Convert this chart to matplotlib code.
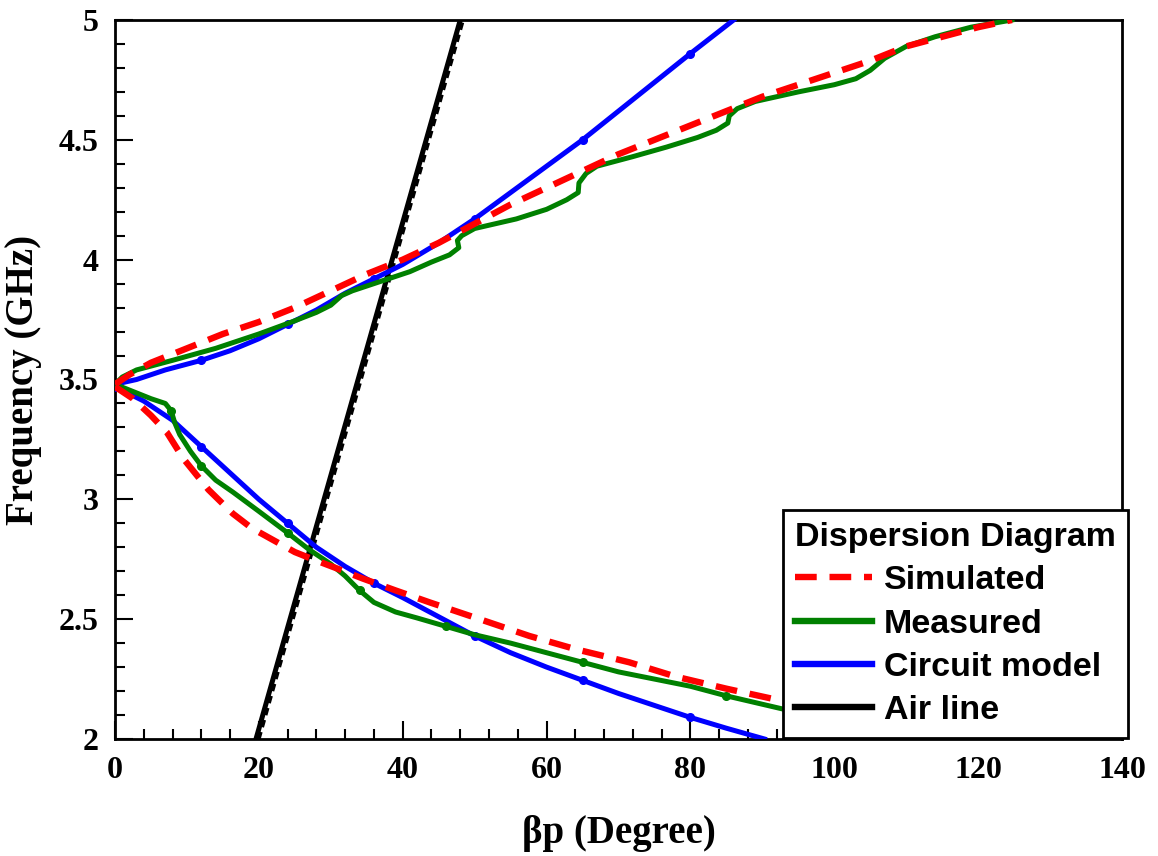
import matplotlib.pyplot as plt
from matplotlib.lines import Line2D
from matplotlib.ticker import MultipleLocator, FormatStrFormatter

# Simulated (red dashed)
sim_up_x = [0, 2, 5, 10, 15, 20, 25, 30, 35, 40, 45, 50, 55, 60, 65, 70, 75, 80, 85, 90, 95, 100, 105, 110, 115, 120, 124.7]
sim_up_f = [3.48, 3.52, 3.57, 3.63, 3.69, 3.74, 3.80, 3.87, 3.94, 4.00, 4.07, 4.15, 4.23, 4.30, 4.37, 4.44, 4.50, 4.56, 4.62, 4.68, 4.73, 4.78, 4.83, 4.89, 4.93, 4.97, 5.0]
sim_lo_x = [0, 2.5, 5, 7.2, 9.5, 13, 16.4, 19, 22, 25, 27.5, 31, 34.4, 39, 43.75, 50.7, 57.6, 64, 71.5, 78, 85, 92.6, 100]
sim_lo_f = [3.47, 3.42, 3.35, 3.28, 3.17, 3.04, 2.94, 2.88, 2.83, 2.78, 2.75, 2.71, 2.67, 2.62, 2.57, 2.50, 2.43, 2.375, 2.32, 2.26, 2.21, 2.16, 2.11]

# Measured (green)
meas_up_x = [0, 1, 3, 8, 14, 20, 25, 28, 30, 31.5, 33, 37, 41, 44, 46.5, 47.8, 47.6, 48.2, 50, 55.8, 60, 62.8, 64.4,
             64.5, 65.5, 67, 72, 76.7, 81, 83.6, 85.2, 85.4, 86.5, 89, 95, 100, 103, 105, 107, 110, 114, 119, 124.7]
meas_up_f = [3.48, 3.51, 3.54, 3.58, 3.63, 3.69, 3.745, 3.78, 3.81, 3.85, 3.87, 3.91, 3.95, 3.99, 4.02, 4.05, 4.08, 4.10, 4.13, 4.17, 4.21, 4.25, 4.28,
             4.32, 4.36, 4.39, 4.43, 4.47, 4.51, 4.54, 4.57, 4.60, 4.63, 4.66, 4.70, 4.73, 4.755, 4.79, 4.84, 4.89, 4.93, 4.97, 5.0]
meas_lo_x = [0, 2.5, 5, 7, 7.8, 8.3, 9, 10.5, 12, 14, 16.4, 20, 24, 27, 30, 32, 34, 36, 39, 42, 46, 50, 55, 60, 65, 70, 75, 80, 85, 90, 95, 100]
meas_lo_f = [3.48, 3.45, 3.42, 3.40, 3.37, 3.32, 3.27, 3.20, 3.14, 3.08, 3.03, 2.95, 2.86, 2.79, 2.73, 2.68, 2.62, 2.57, 2.53, 2.505, 2.47, 2.435, 2.40, 2.36, 2.32, 2.28, 2.25, 2.22, 2.18, 2.145, 2.11, 2.08]

# Circuit model (blue)
circ_up_x = [0, 3, 7, 12, 16, 20, 24, 28, 32, 36, 40, 45, 50, 55, 60, 65, 70, 75, 80, 86]
circ_up_f = [3.48, 3.50, 3.54, 3.58, 3.62, 3.67, 3.73, 3.79, 3.86, 3.92, 3.98, 4.07, 4.17, 4.28, 4.39, 4.50, 4.62, 4.74, 4.86, 5.0]
circ_lo_x = [0, 4, 8, 12, 16, 20, 24, 28, 32, 36, 40, 45, 50, 55, 60, 65, 70, 75, 80, 85, 90.3]
circ_lo_f = [3.47, 3.41, 3.33, 3.22, 3.11, 3.00, 2.90, 2.80, 2.72, 2.65, 2.59, 2.51, 2.43, 2.36, 2.30, 2.245, 2.19, 2.14, 2.09, 2.045, 2.0]

# Air line (black)
air_x = [19.6, 48.0]
air_f = [2.0, 5.0]
air2_x = [19.9, 48.3]
air2_f = [2.0, 5.0]

fig = plt.figure(figsize=(11.58, 8.56), dpi=100)
ax = fig.add_axes([115 / 1158, 1 - 739 / 856, 1007 / 1158, 719 / 856])

red, green, blue = "#ff0000", "#008000", "#0000ff"
dash = (0, (3.4, 2.0))

ax.plot(air_x, air_f, color="black", lw=3.6, zorder=3)
ax.plot(air2_x, air2_f, color="black", lw=3.6, ls=(0, (1.5, 1)), zorder=3)
ax.plot(circ_up_x, circ_up_f, color=blue, lw=3.6, marker="o", ms=5.5, markevery=3, zorder=4)
ax.plot(circ_lo_x, circ_lo_f, color=blue, lw=3.6, marker="o", ms=5.5, markevery=3, zorder=4)
ax.plot(meas_up_x, meas_up_f, color=green, lw=3.6, zorder=5)
ax.plot(meas_lo_x, meas_lo_f, color=green, lw=3.6, marker="o", ms=5.5, markevery=4, zorder=5)
ax.plot(sim_up_x, sim_up_f, color=red, lw=4.6, ls=dash, zorder=6)
ax.plot(sim_lo_x, sim_lo_f, color=red, lw=4.6, ls=dash, zorder=6)

ax.set_xlim(0, 140)
ax.set_ylim(2, 5)
ax.xaxis.set_major_locator(MultipleLocator(20))
ax.xaxis.set_minor_locator(MultipleLocator(4))
ax.yaxis.set_major_locator(MultipleLocator(0.5))
ax.yaxis.set_minor_locator(MultipleLocator(0.1))
ax.yaxis.set_major_formatter(FormatStrFormatter("%g"))
ax.tick_params(which="both", direction="in", top=False, right=False, width=1.5, pad=12)
ax.tick_params(which="major", length=13)
ax.tick_params(which="minor", length=7)
for s in ax.spines.values():
    s.set_linewidth(2)

serif = {"family": "Liberation Serif", "weight": "bold"}
for lab in ax.get_xticklabels() + ax.get_yticklabels():
    lab.set_fontfamily("Liberation Serif")
    lab.set_fontweight("bold")
    lab.set_fontsize(23)
ax.set_xlabel("βp (Degree)", fontdict=serif, fontsize=28, labelpad=22)
ax.set_ylabel("Frequency (GHz)", fontdict=serif, fontsize=28, labelpad=12)

handles = [Line2D([], [], color=red, lw=4.6, ls=dash),
           Line2D([], [], color=green, lw=4.6),
           Line2D([], [], color=blue, lw=4.6),
           Line2D([], [], color="black", lw=4.6)]
labels = ["Simulated", "Measured", "Circuit model", "Air line"]
font = {"family": "Liberation Sans", "weight": "bold", "size": 24.5}
leg = ax.legend(handles, labels, title="Dispersion Diagram",
                loc="lower right", bbox_to_anchor=(1128 / 1158, 1 - 738 / 856),
                bbox_transform=fig.transFigure, borderaxespad=0, alignment="left",
                prop=font, title_fontproperties=font,
                handlelength=2.25, handletextpad=0.35, labelspacing=0.36, borderpad=0.35,
                fancybox=False, framealpha=1, edgecolor="black")
leg.get_frame().set_linewidth(2)
leg.set_zorder(10)

plt.savefig("out.png", dpi=100)
